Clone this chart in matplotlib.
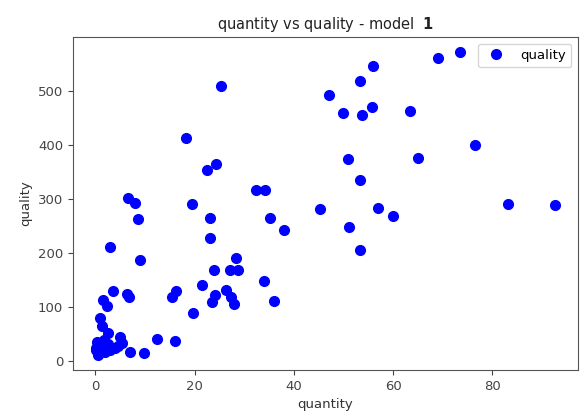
import matplotlib
matplotlib.use("Agg")
import matplotlib.pyplot as plt

# values
quantity = [69.1, 73.5, 56, 53.4, 47.1, 49.9, 53.8, 55.8, 63.4, 76.5, 51, 65,
            53.4, 45.3, 57, 60, 83.2, 92.6, 38.1, 51.2, 53.4, 36.1,
            25.4, 18.3, 22.6, 24.4, 32.4, 34.2, 6.6, 7.9, 19.5, 8.7, 23.2, 35.2,
            23.2, 3, 9.1, 28.4, 24, 27.2, 28.8, 21.4, 26.4, 24.2, 23.6, 27.4,
            28, 34, 15.5, 16.3, 19.7, 12.5, 16.1,
            3.6, 6.4, 6.8, 1.6, 2.4, 1, 1.4, 2.6, 5, 5.4, 9.9, 7, 4.6, 0.3,
            0.5, 0.2, 0.8, 1.5, 2, 0.6, 1.2, 3, 4, 2.5, 0.1, 1.8]
quality = [560, 571, 545, 517, 492, 459, 455, 470, 462, 400, 374, 376,
           334, 281, 284, 268, 290, 288, 242, 248, 205, 112,
           508, 413, 354, 365, 316, 316, 301, 292, 290, 262, 264, 264,
           228, 211, 187, 191, 169, 169, 169, 141, 132, 123, 110, 118,
           105, 149, 118, 130, 90, 42, 37,
           130, 124, 118, 113, 103, 79, 66, 52, 44, 33, 15, 17, 29, 35,
           28, 20, 15, 22, 18, 12, 30, 20, 25, 32, 25, 40]

fig = plt.figure(figsize=(5.83, 4.17), dpi=100)
ax = fig.add_axes([0.125, 0.113, 0.866, 0.798])
ax.plot(quantity, quality, "o", color="blue", markersize=7, label="quality")
ax.set_title(r"quantity vs quality - model  $\mathbf{1}$", fontsize=10.5, color="#222222")
ax.set_xlabel("quantity", fontsize=9.5, color="#333333")
ax.set_ylabel("quality", fontsize=9.5, color="#333333")
ax.tick_params(labelsize=9.5, colors="#444444")
for s in ax.spines.values():
    s.set_color("#555555")
ax.set_xticks([0, 20, 40, 60, 80])
ax.set_yticks([0, 100, 200, 300, 400, 500])
ax.legend(loc="upper right", fontsize=9.5)

plt.savefig("out.png", dpi=100)
